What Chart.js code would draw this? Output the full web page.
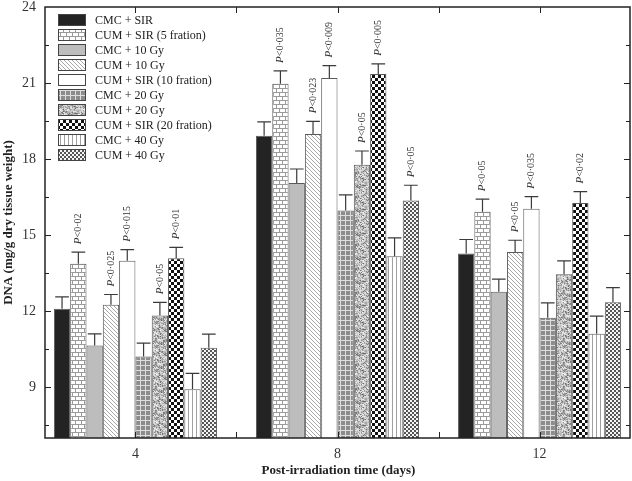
<!DOCTYPE html>
<html>
<head>
<meta charset="utf-8">
<script src="https://cdn.jsdelivr.net/npm/chart.js@4"></script>
<style>
  body { margin: 0; background: #fff; }
  canvas { display: block; }
</style>
</head>
<body>
<canvas id="dnaChart" width="632" height="481"></canvas>
<script>
// Post-irradiation days (x positions of the groups)
const days = [4, 8, 12];
const yTicks = [9, 12, 15, 18, 21, 24];

const seriesNames = [
  'CMC + SIR', 'CUM + SIR (5 fration)', 'CMC + 10 Gy', 'CUM + 10 Gy',
  'CUM + SIR (10 fration)', 'CMC + 20 Gy', 'CUM + 20 Gy',
  'CUM + SIR (20 fration)', 'CMC + 40 Gy', 'CUM + 40 Gy'
];

// Mean DNA values per series (day 4, 8, 12)
const cmcSir = [12.10, 18.92, 14.28];
const cumSir5 = [13.87, 20.97, 15.92];
const cmc10 = [10.65, 17.06, 12.77];
const cum10 = [12.26, 18.99, 14.34];
const cumSir10 = [13.99, 21.20, 16.04];
const cmc20 = [10.21, 15.97, 11.74];
const cum20 = [11.83, 17.78, 13.46];
const cumSir20 = [14.09, 21.36, 16.27];
const cmc40 = [8.92, 14.17, 11.11];
const cum40 = [10.56, 16.37, 12.35];

// Error bar sizes
const cmcSirErr = [0.47, 0.55, 0.55];
const cumSir5Err = [0.46, 0.51, 0.50];
const cmc10Err = [0.46, 0.55, 0.50];
const cum10Err = [0.40, 0.50, 0.46];
const cumSir10Err = [0.44, 0.49, 0.48];
const cmc20Err = [0.53, 0.62, 0.59];
const cum20Err = [0.52, 0.54, 0.53];
const cumSir20Err = [0.43, 0.40, 0.45];
const cmc40Err = [0.63, 0.72, 0.70];
const cum40Err = [0.54, 0.60, 0.58];

// Significance labels above the bars
const cumSir5P = ['<0·02', '<0·035', '<0·05'];
const cum10P = ['<0·025', '<0·023', '<0·05'];
const cumSir10P = ['<0·015', '<0·009', '<0·035'];
const cum20P = ['<0·05', '<0·05', null];
const cumSir20P = ['<0·01', '<0·005', '<0·02'];
const cum40P = [null, '<0·05', null];

const values = [cmcSir, cumSir5, cmc10, cum10, cumSir10, cmc20, cum20, cumSir20, cmc40, cum40];
const errors = [cmcSirErr, cumSir5Err, cmc10Err, cum10Err, cumSir10Err, cmc20Err, cum20Err, cumSir20Err, cmc40Err, cum40Err];
const pLabels = [null, cumSir5P, null, cum10P, cumSir10P, null, cum20P, cumSir20P, null, cum40P];

// ---- fill patterns ----
function makePattern(w, h, draw) {
  const c = document.createElement('canvas');
  c.width = w; c.height = h;
  const g = c.getContext('2d');
  draw(g, w, h);
  return g.createPattern(c, 'repeat');
}
function solid(color) {
  return makePattern(2, 2, (g, w, h) => { g.fillStyle = color; g.fillRect(0, 0, w, h); });
}
const fills = [
  solid('#232323'),
  makePattern(6, 8, (g) => { // brick
    g.fillStyle = '#fff'; g.fillRect(0, 0, 6, 8);
    g.fillStyle = '#9a9a9a';
    g.fillRect(0, 0, 6, 1); g.fillRect(0, 4, 6, 1);
    g.fillRect(0, 0, 1, 4); g.fillRect(3, 4, 1, 4);
  }),
  solid('#bdbdbd'),
  makePattern(4, 4, (g) => { // diagonal hatch
    g.fillStyle = '#fff'; g.fillRect(0, 0, 4, 4);
    g.fillStyle = '#a8a8a8';
    for (let i = 0; i < 4; i++) g.fillRect(i, i, 1, 1);
  }),
  solid('#ffffff'),
  makePattern(5, 5, (g) => { // grey grid
    g.fillStyle = '#8c8c8c'; g.fillRect(0, 0, 5, 5);
    g.fillStyle = '#dedede';
    g.fillRect(0, 0, 5, 1); g.fillRect(0, 0, 1, 5);
  }),
  makePattern(24, 24, (g) => { // mottled texture
    const img = g.createImageData(24, 24);
    for (let y = 0; y < 24; y++) {
      for (let x = 0; x < 24; x++) {
        const n = Math.sin(x * 12.9898 + y * 78.233) * 43758.5453;
        const r = n - Math.floor(n);
        const s = Math.sin(x * 0.7) * Math.cos(y * 0.9);
        let v = 222 + s * 25 - r * r * 110;
        v = Math.max(70, Math.min(245, v));
        const k = (y * 24 + x) * 4;
        img.data[k] = img.data[k + 1] = img.data[k + 2] = v;
        img.data[k + 3] = 255;
      }
    }
    g.putImageData(img, 0, 0);
  }),
  makePattern(6, 6, (g) => { // bold checker
    g.fillStyle = '#111'; g.fillRect(0, 0, 6, 6);
    g.fillStyle = '#fff';
    g.fillRect(0, 0, 3, 3); g.fillRect(3, 3, 3, 3);
  }),
  makePattern(4, 2, (g) => { // vertical lines
    g.fillStyle = '#fff'; g.fillRect(0, 0, 4, 2);
    g.fillStyle = '#a0a0a0'; g.fillRect(0, 0, 1, 2);
  }),
  makePattern(4, 4, (g) => { // fine cross-hatch
    g.fillStyle = '#f4f4f4'; g.fillRect(0, 0, 4, 4);
    g.fillStyle = '#555';
    g.fillRect(0, 0, 2, 2); g.fillRect(2, 2, 2, 2);
  })
];

const serif = '"Liberation Serif", "DejaVu Serif", serif';

const datasets = values.map((vals, i) => ({
  label: seriesNames[i],
  data: vals.map((v, j) => ({x: days[j], y: v})),
  backgroundColor: fills[i],
  borderColor: '#5a5a5a',
  borderWidth: 1,
  categoryPercentage: 0.807,
  barPercentage: 1.0
}));

// error bars, p labels, ticks, legend and titles
const decorations = {
  id: 'decorations',
  afterDatasetsDraw(chart) {
    const ctx = chart.ctx;
    const ys = chart.scales.y, xs = chart.scales.x;
    const area = chart.chartArea;
    ctx.save();

    // error bars + p labels
    chart.data.datasets.forEach((ds, i) => {
      const meta = chart.getDatasetMeta(i);
      meta.data.forEach((bar, j) => {
        const top = ys.getPixelForValue(values[i][j] + errors[i][j]);
        const half = bar.width * 0.42;
        ctx.strokeStyle = '#3a3a3a';
        ctx.lineWidth = 1.2;
        ctx.beginPath();
        ctx.moveTo(bar.x, bar.y);
        ctx.lineTo(bar.x, top);
        ctx.moveTo(bar.x - half, top);
        ctx.lineTo(bar.x + half, top);
        ctx.stroke();

        const p = pLabels[i] && pLabels[i][j];
        if (p) {
          ctx.save();
          ctx.translate(bar.x, top - 8);
          ctx.rotate(-Math.PI / 2);
          ctx.fillStyle = '#333';
          ctx.textBaseline = 'middle';
          ctx.textAlign = 'left';
          ctx.font = 'italic 11px ' + serif;
          ctx.fillText('P', 0, 0);
          const w = ctx.measureText('P').width;
          ctx.font = '10px ' + serif;
          ctx.fillText(p, w, 0);
          ctx.restore();
        }
      });
    });

    // frame
    ctx.strokeStyle = '#222';
    ctx.lineWidth = 1.5;
    ctx.strokeRect(area.left, area.top, area.right - area.left, area.bottom - area.top);

    // inward tick marks
    ctx.lineWidth = 1;
    ctx.beginPath();
    for (let v = 7.5; v < 24; v += 1.5) {
      const y = Math.round(ys.getPixelForValue(v)) + 0.5;
      const len = (v % 3 === 0) ? 6 : 4;
      ctx.moveTo(area.left, y); ctx.lineTo(area.left + len, y);
      ctx.moveTo(area.right, y); ctx.lineTo(area.right - len, y);
    }
    for (let d = 4; d <= 12; d += 2) {
      const x = Math.round(xs.getPixelForValue(d)) + 0.5;
      ctx.moveTo(x, area.top); ctx.lineTo(x, area.top + 6);
      ctx.moveTo(x, area.bottom); ctx.lineTo(x, area.bottom - 6);
    }
    ctx.stroke();

    // legend
    ctx.font = '12px ' + serif;
    ctx.textBaseline = 'middle';
    ctx.textAlign = 'left';
    seriesNames.forEach((name, i) => {
      const y = 14 + i * 15;
      ctx.fillStyle = fills[i];
      ctx.fillRect(58, y, 28, 12);
      ctx.strokeStyle = '#444';
      ctx.lineWidth = 1;
      ctx.strokeRect(58.5, y + 0.5, 27, 11);
      ctx.fillStyle = '#222';
      ctx.fillText(name, 95, y + 6.5);
    });

    // axis titles
    ctx.fillStyle = '#222';
    ctx.font = 'bold 13px ' + serif;
    ctx.textAlign = 'center';
    ctx.fillText('Post-irradiation time (days)', (area.left + area.right) / 2 + 1, 471);
    ctx.save();
    ctx.translate(9, (area.top + area.bottom) / 2);
    ctx.rotate(-Math.PI / 2);
    ctx.fillText('DNA (mg/g dry tissue weight)', 0, 0);
    ctx.restore();

    ctx.restore();
  }
};

new Chart(document.getElementById('dnaChart'), {
  type: 'bar',
  data: {datasets},
  options: {
    responsive: false,
    animation: false,
    devicePixelRatio: 1,
    layout: {padding: {top: 0, right: 2, left: 0, bottom: 0}},
    plugins: {legend: {display: false}, tooltip: {enabled: false}},
    scales: {
      x: {
        type: 'linear',
        min: 2.21,
        max: 13.79,
        offset: false,
        grid: {display: false, drawTicks: false},
        border: {display: false},
        afterBuildTicks: (s) => { s.ticks = days.map(v => ({value: v})); },
        afterFit: (s) => { s.height = 43; s.paddingLeft = 0; s.paddingRight = 0; },
        ticks: {
          padding: 8,
          color: '#333',
          font: {family: serif, size: 14}
        }
      },
      y: {
        min: 7,
        max: 24,
        grid: {display: false, drawTicks: false},
        border: {display: false},
        afterBuildTicks: (s) => { s.ticks = yTicks.map(v => ({value: v})); },
        afterFit: (s) => { s.width = 45; s.paddingTop = 7; s.paddingBottom = 0; },
        ticks: {
          padding: 9,
          color: '#333',
          font: {family: serif, size: 14}
        }
      }
    }
  },
  plugins: [decorations]
});
</script>
</body>
</html>
